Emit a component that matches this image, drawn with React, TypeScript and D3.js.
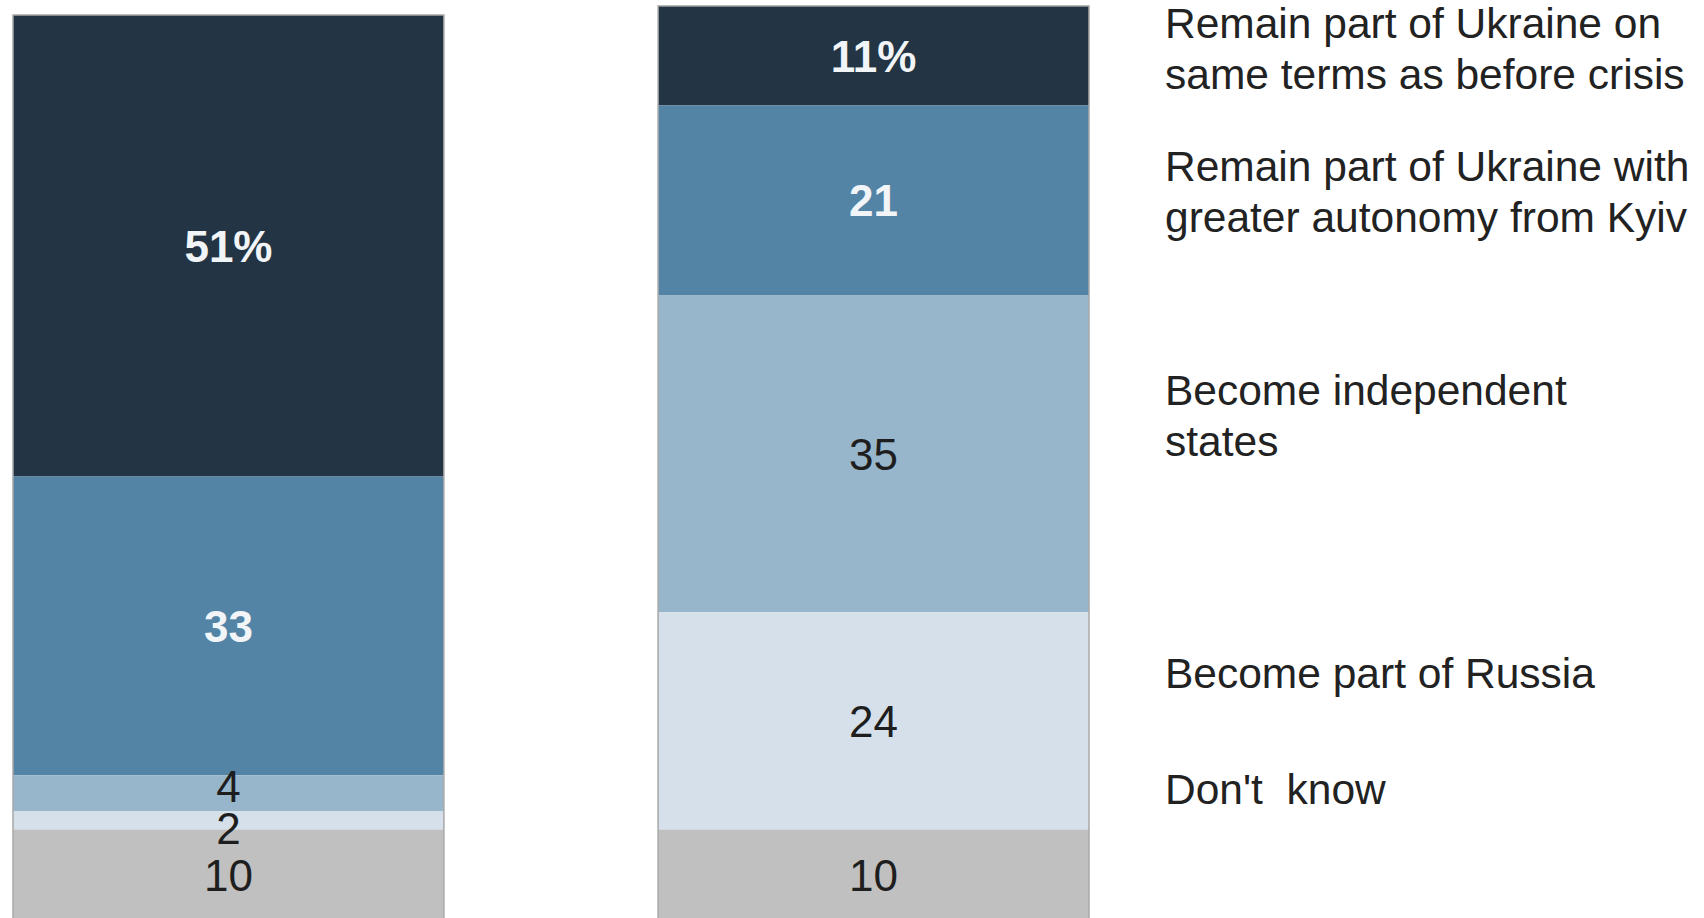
import React from "react";
import * as d3 from "d3";

// ---- data ----
const groups = ["Bar 1", "Bar 2"];
const seriesNames = [
  "Remain part of Ukraine on same terms as before crisis",
  "Remain part of Ukraine with greater autonomy from Kyiv",
  "Become independent states",
  "Become part of Russia",
  "Don't  know",
];
const bar1Values = [51, 33, 4, 2, 10];
const bar2Values = [11, 21, 35, 24, 10];
const legendLines = [
  ["Remain part of Ukraine on", "same terms as before crisis"],
  ["Remain part of Ukraine with", "greater autonomy from Kyiv"],
  ["Become independent", "states"],
  ["Become part of Russia"],
  ["Don't  know"],
];

// ---- styles / layout ----
const W = 1704;
const H = 918;
const COLORS = ["#233544", "#5384a6", "#97b6cb", "#d6e0ea", "#c0c0c0"];
const LABEL_COLORS = ["#f2f5f8", "#f2f5f8", "#1e1e1e", "#1e1e1e", "#1e1e1e"];
const LABEL_WEIGHTS = ["bold", "bold", "normal", "normal", "normal"];
const FONT = "'Liberation Sans', Arial, Helvetica, sans-serif";
const LEGEND_X = 1165;
const LEGEND_BASELINES = [38, 181, 405, 688, 804];
const LEGEND_LINE_H = 51;
const MIN_LABEL_GAP = 42;

function spreadLabels(centers: number[], minGap: number): number[] {
  const c = centers.slice();
  for (let it = 0; it < 50; it++) {
    let moved = false;
    for (let i = 0; i < c.length - 1; i++) {
      const gap = c[i + 1] - c[i];
      if (gap < minGap - 0.01) {
        const push = (minGap - gap) / 2;
        c[i] -= push;
        c[i + 1] += push;
        moved = true;
      }
    }
    if (!moved) break;
  }
  return c;
}

export default function App() {
  const allValues = [bar1Values, bar2Values];
  const x = d3
    .scaleBand<string>()
    .domain(groups)
    .range([13, 1089])
    .paddingInner(0.332)
    .paddingOuter(0);
  const y = d3.scaleLinear().domain([0, 100]).range([920, 15]);

  const bars = groups.map((g, gi) => {
    const vals = allValues[gi];
    const total = d3.sum(vals);
    let cum = total;
    const segs = vals.map((v, si) => {
      const top = cum;
      const bottom = cum - v;
      cum = bottom;
      return { si, v, y0: y(top), y1: y(bottom) };
    });
    const centers = spreadLabels(
      segs.map((s) => (s.y0 + s.y1) / 2),
      MIN_LABEL_GAP
    );
    return { g, gi, segs, centers, top: y(total), bottom: y(0) };
  });

  return (
    <svg
      width={W}
      height={H}
      style={{ position: "absolute", left: 0, top: 0, background: "#fff" }}
    >
      <rect width={W} height={H} fill="#fff" />
      {bars.map((b) => {
        const bx = x(b.g)!;
        const bw = x.bandwidth();
        const cx = bx + bw / 2;
        return (
          <g key={b.g}>
            {b.segs.map((s) => (
              <rect
                key={s.si}
                x={bx}
                y={s.y0}
                width={bw}
                height={s.y1 - s.y0}
                fill={COLORS[s.si]}
              />
            ))}
            <rect
              x={bx}
              y={b.top}
              width={bw}
              height={b.bottom - b.top}
              fill="none"
              stroke="#a8a8a8"
              strokeWidth={1.5}
            />
            {b.segs.map((s, i) => (
              <text
                key={"l" + s.si}
                x={cx}
                y={b.centers[i]}
                dy="0.36em"
                textAnchor="middle"
                fontFamily={FONT}
                fontSize={44}
                fontWeight={LABEL_WEIGHTS[s.si]}
                fill={LABEL_COLORS[s.si]}
              >
                {s.v}
                {s.si === 0 ? "%" : ""}
              </text>
            ))}
          </g>
        );
      })}
      {legendLines.map((lines, i) => (
        <text
          key={seriesNames[i]}
          x={LEGEND_X}
          y={LEGEND_BASELINES[i]}
          fontFamily={FONT}
          fontSize={42.5}
          fill="#222"
        >
          {lines.map((ln, li) => (
            <tspan key={li} x={LEGEND_X} dy={li === 0 ? 0 : LEGEND_LINE_H} style={{ whiteSpace: "pre" }}>
              {ln}
            </tspan>
          ))}
        </text>
      ))}
    </svg>
  );
}
